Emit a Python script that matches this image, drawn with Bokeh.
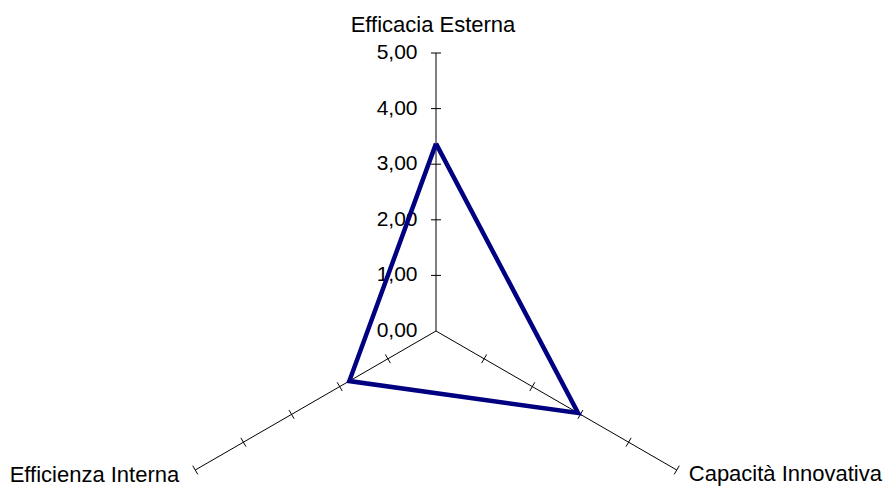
import numpy as np
from bokeh.plotting import figure
from bokeh.models import Range1d, ColumnDataSource
from bokeh.core.properties import value
from bokeh.embed import file_html
from bokeh.resources import INLINE

# ---- data ----
categories = ["Efficacia Esterna", "Capacità Innovativa", "Efficienza Interna"]
values = [3.37, 2.95, 1.80]
tick_values = [0, 1, 2, 3, 4, 5]
tick_labels = ["0,00", "1,00", "2,00", "3,00", "4,00", "5,00"]
r_max = 5

# ---- geometry ----
W, H = 883, 487
unit = 55.6            # pixels per value unit
cx, cy = 435.5, 330.5  # centre in canvas pixels
angles = np.deg2rad([90, -30, 210])
FONT = value("Liberation Sans")

p = figure(width=W, height=H, output_backend="svg", toolbar_location=None,
           x_range=Range1d(-cx / unit, (W - cx) / unit),
           y_range=Range1d(-(H - cy) / unit, cy / unit),
           min_border=0, outline_line_color=None)
p.axis.visible = False
p.grid.visible = False
p.background_fill_color = "white"
p.border_fill_color = "white"

cosA, sinA = np.cos(angles), np.sin(angles)

# axis spokes
p.segment(x0=np.zeros(3), y0=np.zeros(3), x1=r_max * cosA, y1=r_max * sinA,
          line_color="black", line_width=1)

# tick marks (perpendicular to each spoke)
hl = 5.0 / unit
tx0, ty0, tx1, ty1 = [], [], [], []
for a in angles:
    ca, sa = np.cos(a), np.sin(a)
    for t in tick_values[1:]:
        px, py = t * ca, t * sa
        tx0.append(px + hl * sa)
        ty0.append(py - hl * ca)
        tx1.append(px - hl * sa)
        ty1.append(py + hl * ca)
p.segment(x0=tx0, y0=ty0, x1=tx1, y1=ty1, line_color="black", line_width=1)

# tick labels on the top axis
p.text(x=[0] * len(tick_values), y=tick_values, text=tick_labels,
       x_offset=-18.5, y_offset=-1, text_align="right", text_baseline="middle",
       text_font=FONT, text_font_size="21px", text_color="black")

# category labels
lab = ColumnDataSource(dict(
    x=r_max * cosA, y=r_max * sinA, text=categories,
    align=["center", "left", "right"],
    xo=[-3, 12, -16], yo=[-28.5, 3, 4.5]))
p.text(x="x", y="y", text="text", source=lab, text_align="align",
       x_offset="xo", y_offset="yo", text_baseline="alphabetic",
       text_font=FONT, text_font_size="22px", text_color="black")

# data polygon
vx = list(np.array(values) * cosA) + [values[0] * cosA[0]]
vy = list(np.array(values) * sinA) + [values[0] * sinA[0]]
p.line(vx, vy, line_color="#000080", line_width=4.5, line_join="miter")

open("out.html", "w").write(file_html(p, INLINE))
